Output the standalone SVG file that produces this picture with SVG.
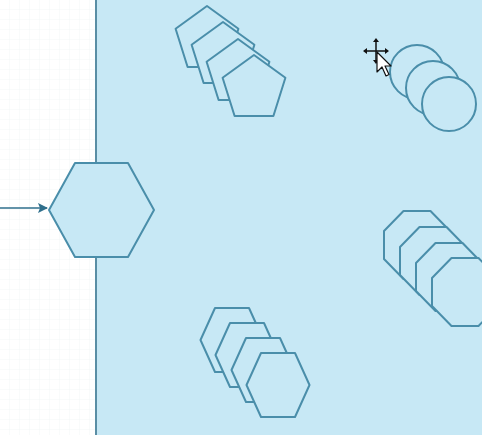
<svg xmlns="http://www.w3.org/2000/svg" width="482" height="435" viewBox="0 0 482 435">
<defs>
<style>
.sh{fill:#c7e8f5;stroke:#4a8eaa;stroke-width:2;stroke-linejoin:round}
.conn{stroke:#2f6f8c;stroke-width:1.5;fill:none}
</style>
<pattern id="grid" width="10" height="10" patternUnits="userSpaceOnUse">
<path d="M10 0V10M0 10H10" stroke="#f3f6f7" stroke-width="1" fill="none"/>
</pattern>
<marker id="arr" viewBox="0 0 10 10" refX="9" refY="5" markerWidth="10" markerHeight="10" markerUnits="userSpaceOnUse" orient="auto">
<path d="M0 0L10 5L0 10L2 5Z" fill="#2f6f8c"/>
</marker>
<polygon id="pent" points="0,-33 31.4,-10.2 19.4,28 -19.4,28 -31.4,-10.2"/>
<polygon id="oct" points="-13.5,-34 13.5,-34 33,-14 33,14 13.5,34 -13.5,34 -33,14 -33,-14"/>
<polygon id="hex" points="-17,-32 17,-32 31.5,0 17,32 -17,32 -31.5,0"/>
</defs>
<rect x="0" y="0" width="96" height="435" fill="#ffffff"/>
<rect x="0" y="0" width="96" height="435" fill="url(#grid)"/>
<rect x="96" y="0" width="386" height="435" fill="#c7e8f5"/>
<line x1="96" y1="0" x2="96" y2="435" stroke="#5a8ea5" stroke-width="2"/>
<g id="connectors">
<line class="conn" x1="0" y1="208" x2="47" y2="208" marker-end="url(#arr)"/>
</g>
<g id="hexagon-main">
<polygon class="sh" points="75,163 128,163 154,210 128,257 75,257 49,210" fill="#cbeaf7"/>
</g>
<g id="pentagons">
<use href="#pent" class="sh" x="207" y="39"/>
<use href="#pent" class="sh" x="223" y="55"/>
<use href="#pent" class="sh" x="238" y="72"/>
<use href="#pent" class="sh" x="254" y="88"/>
</g>
<g id="circles">
<circle class="sh" cx="417" cy="72" r="27"/>
<circle class="sh" cx="433" cy="88" r="27"/>
<circle class="sh" cx="449" cy="104" r="27"/>
</g>
<g id="octagons">
<use href="#oct" class="sh" x="417" y="245"/>
<use href="#oct" class="sh" x="433" y="261"/>
<use href="#oct" class="sh" x="449" y="277"/>
<use href="#oct" class="sh" x="465" y="292"/>
</g>
<g id="hexagons">
<use href="#hex" class="sh" x="232" y="340"/>
<use href="#hex" class="sh" x="247" y="355"/>
<use href="#hex" class="sh" x="263" y="370"/>
<use href="#hex" class="sh" x="278" y="385"/>
</g>
<g id="cursor">
<path d="M376 40V62M365 51H387" stroke="#111" stroke-width="1.5"/>
<path d="M376 38l-3 4h6zM376 64l-3 -4h6zM363 51l4 -3v6zM389 51l-4 -3v6z" fill="#111"/>
<path d="M377 52L377 72L382 67L386 76L389 74.5L385 66L391 66Z" fill="#fff" stroke="#111" stroke-width="1.2" stroke-linejoin="round"/>
</g>
</svg>
